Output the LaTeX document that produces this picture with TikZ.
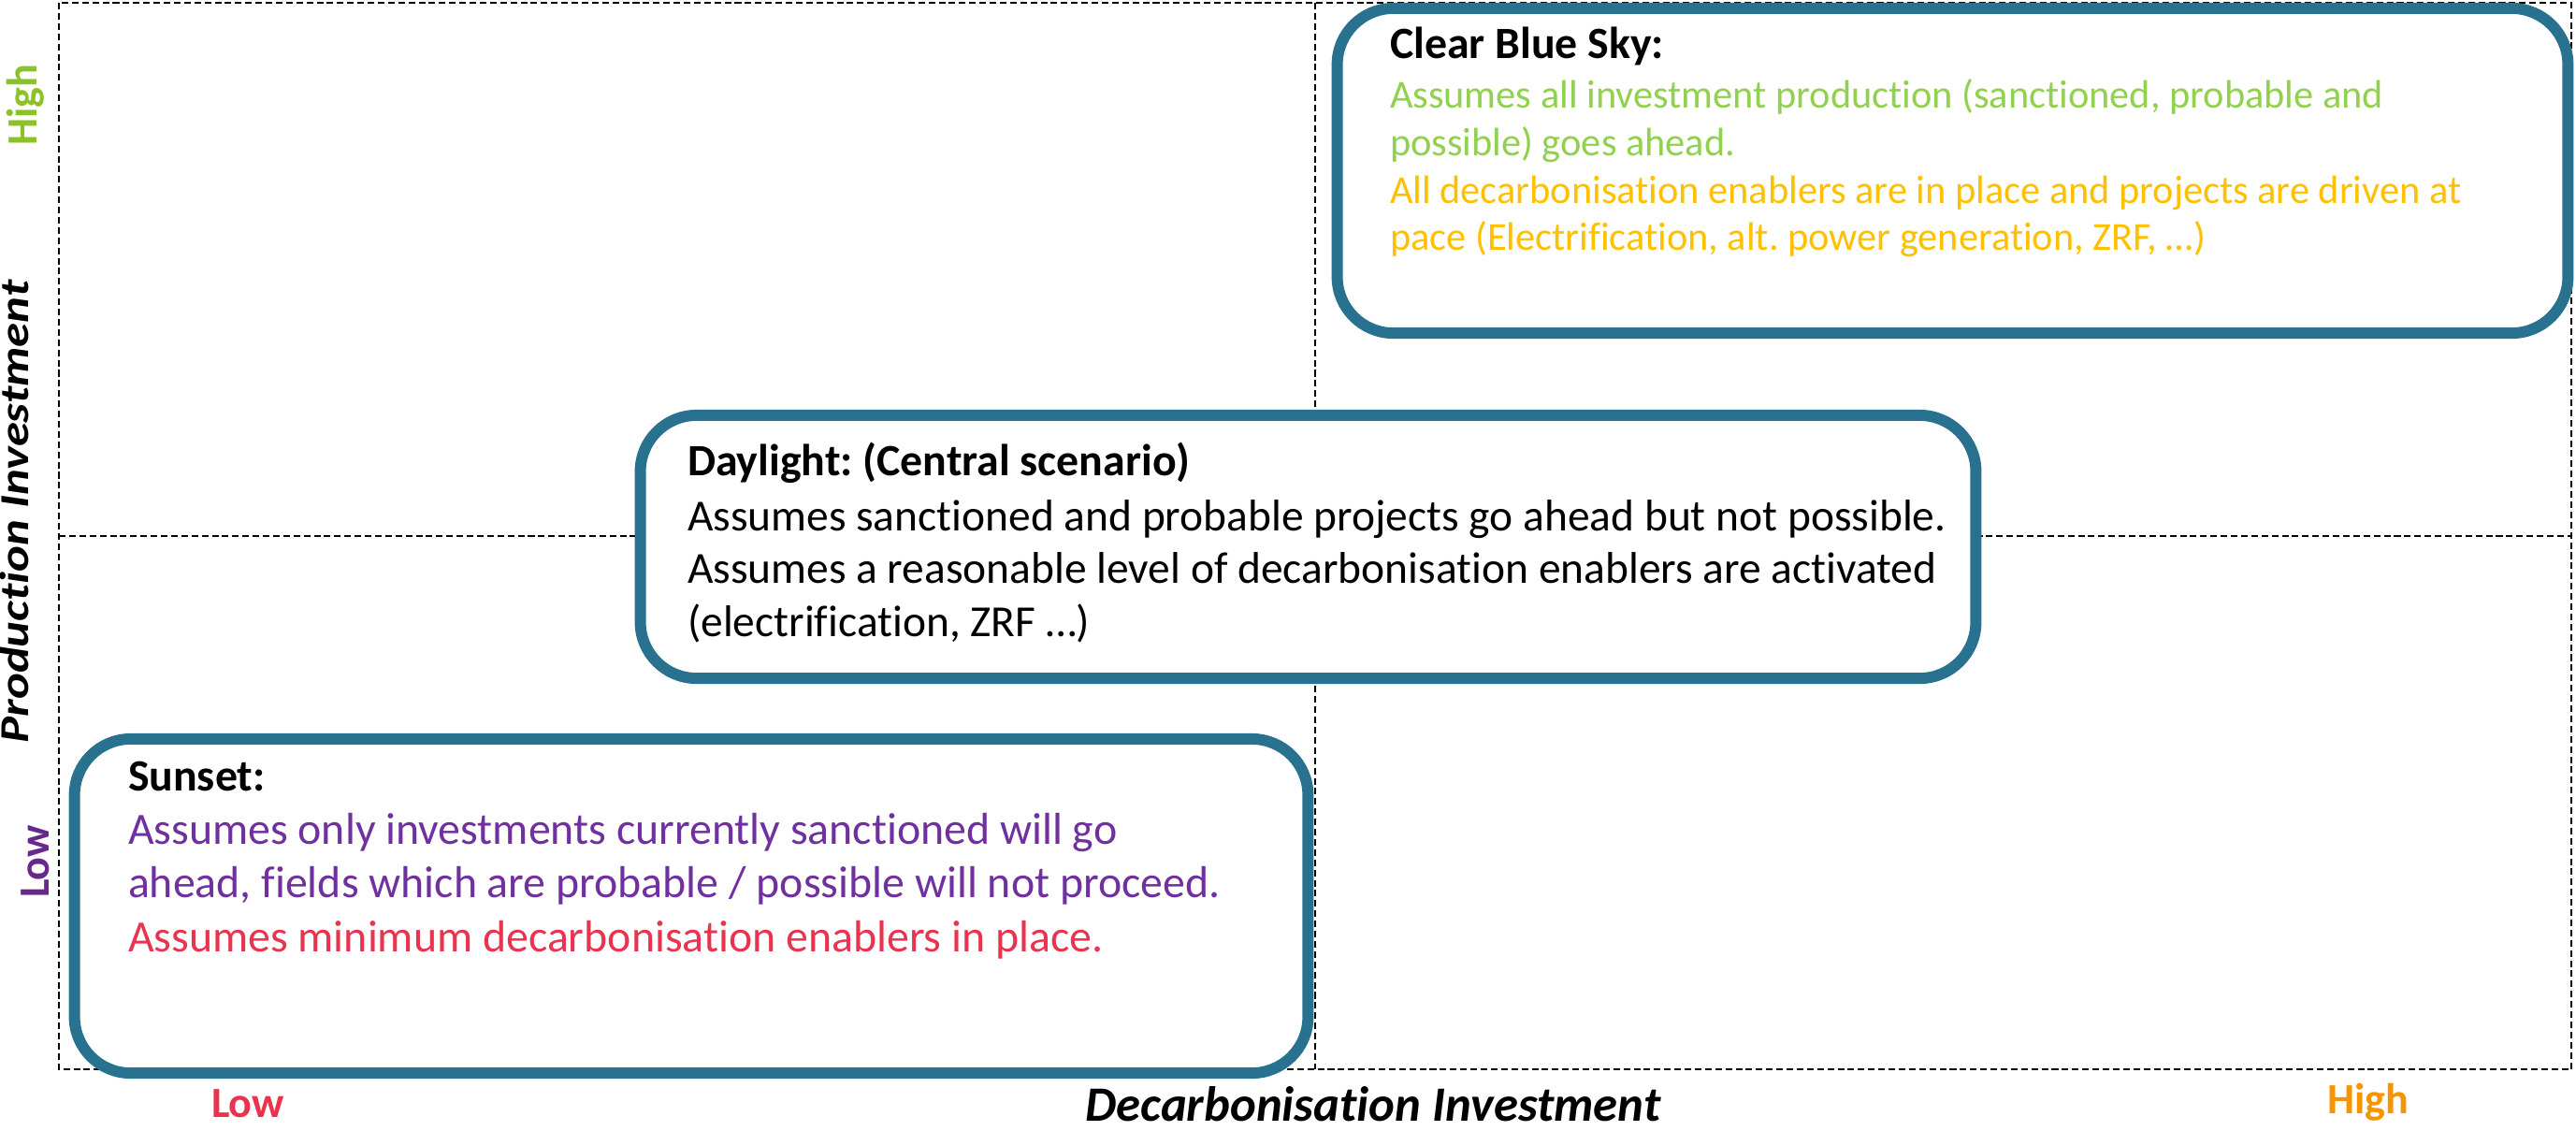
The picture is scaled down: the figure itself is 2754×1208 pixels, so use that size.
\documentclass[tikz,border=0pt]{standalone}
\usepackage{fontspec}
\setmainfont{Carlito}[Ligatures=NoCommon]
\definecolor{boxblue}{RGB}{40,114,144}
\definecolor{cbsgreen}{RGB}{146,208,80}
\definecolor{cbsgold}{RGB}{255,192,0}
\definecolor{sunpurple}{RGB}{112,48,160}
\definecolor{sunred}{RGB}{232,52,78}
\definecolor{axgreen}{RGB}{140,194,40}
\definecolor{axpurple}{RGB}{103,40,140}
\definecolor{axorange}{RGB}{245,150,0}
\frenchspacing
\begin{document}
\begin{tikzpicture}[x=0.01cm,y=-0.01cm,
  grid/.style={draw=black, line width=0.6pt, dash pattern=on 2pt off 1.1pt},
  scen/.style={draw=boxblue, line width=3.4pt, fill=white, rounded corners=0.6cm,
    rectangle, inner sep=0pt, outer sep=0pt},
  txt/.style={anchor=base west, inner sep=0pt, outer sep=0pt},
  ttl/.style={txt, font=\fontsize{13.6}{16}\selectfont\bfseries},
  bodyS/.style={txt, font=\fontsize{12.05}{14}\selectfont},
  bodyL/.style={txt, font=\fontsize{13.6}{16}\selectfont},
  axlab/.style={anchor=base, inner sep=0pt, outer sep=0pt, font=\fontsize{13.1}{15}\selectfont\bfseries},
]
\useasboundingbox (0,0) rectangle (2754,1208);

% frame and quadrant lines
\coordinate (tl) at (63,3);
\coordinate (br) at (2749,1143);
\coordinate (mt) at (1406,3);
\coordinate (mb) at (1406,1143);
\coordinate (ml) at (63,573);
\coordinate (mr) at (2749,573);
\draw[grid] (tl) rectangle (br);
\draw[grid] (mt) -- (mb);
\draw[grid] (ml) -- (mr);

% scenario boxes
\node[scen, minimum width=13.15cm, minimum height=3.47cm] (cbs) at (2087.5,182.5) {};
\node[scen, minimum width=14.27cm, minimum height=2.81cm] (day) at (1398.5,584.5) {};
\node[scen, minimum width=13.18cm, minimum height=3.57cm] (sun) at (739,968.5) {};

% Clear Blue Sky
\node[ttl] (cbs0) at (1486,62) {Clear Blue Sky:};
\node[bodyS, text=cbsgreen] (cbs1) at (1486,115) {Assumes all investment production (sanctioned, probable and};
\node[bodyS, text=cbsgreen] (cbs2) at (1486,166) {possible) goes ahead.};
\node[bodyS, text=cbsgold] (cbs3) at (1486,217) {All decarbonisation enablers are in place and projects are driven at};
\node[bodyS, text=cbsgold] (cbs4) at (1486,267) {pace (Electrification, alt. power generation, ZRF, …)};

% Daylight
\node[ttl] (day0) at (735,508) {Daylight: (Central scenario)};
\node[bodyL, font=\fontsize{13.5}{16}\selectfont] (day1) at (735,567) {Assumes sanctioned and probable projects go ahead but not possible.};
\node[bodyL, font=\fontsize{13.5}{16}\selectfont] (day2) at (735,623) {Assumes a reasonable level of decarbonisation enablers are activated};
\node[bodyL, font=\fontsize{13.5}{16}\selectfont] (day3) at (735,680) {(electrification, ZRF …)};

% Sunset
\node[ttl] (sun0) at (137,845) {Sunset:};
\node[bodyL, text=sunpurple] (sun1) at (137,902) {Assumes only investments currently sanctioned will go};
\node[bodyL, text=sunpurple] (sun2) at (137,959) {ahead, fields which are probable / possible will not proceed.};
\node[bodyL, text=sunred] (sun3) at (137,1017) {Assumes minimum decarbonisation enablers in place.};

% axes labels
\node[axlab, rotate=90, text=axgreen] (yhigh) at (39,112) {High};
\node[axlab, rotate=90, text=axpurple] (ylow) at (52,921) {Low};
\node[axlab, rotate=90, font=\fontsize{12.5}{15}\selectfont\bfseries\itshape] (ylab) at (31,547) {\scalebox{1.2}[1]{Production Investment}};
\node[axlab, text=sunred] (xlow) at (265,1194) {Low};
\node[axlab, text=axorange] (xhigh) at (2532,1190) {High};
\node[axlab, font=\fontsize{15}{17}\selectfont\bfseries\itshape] (xlab) at (1468,1198) {Decarbonisation Investment};
\end{tikzpicture}
\end{document}
